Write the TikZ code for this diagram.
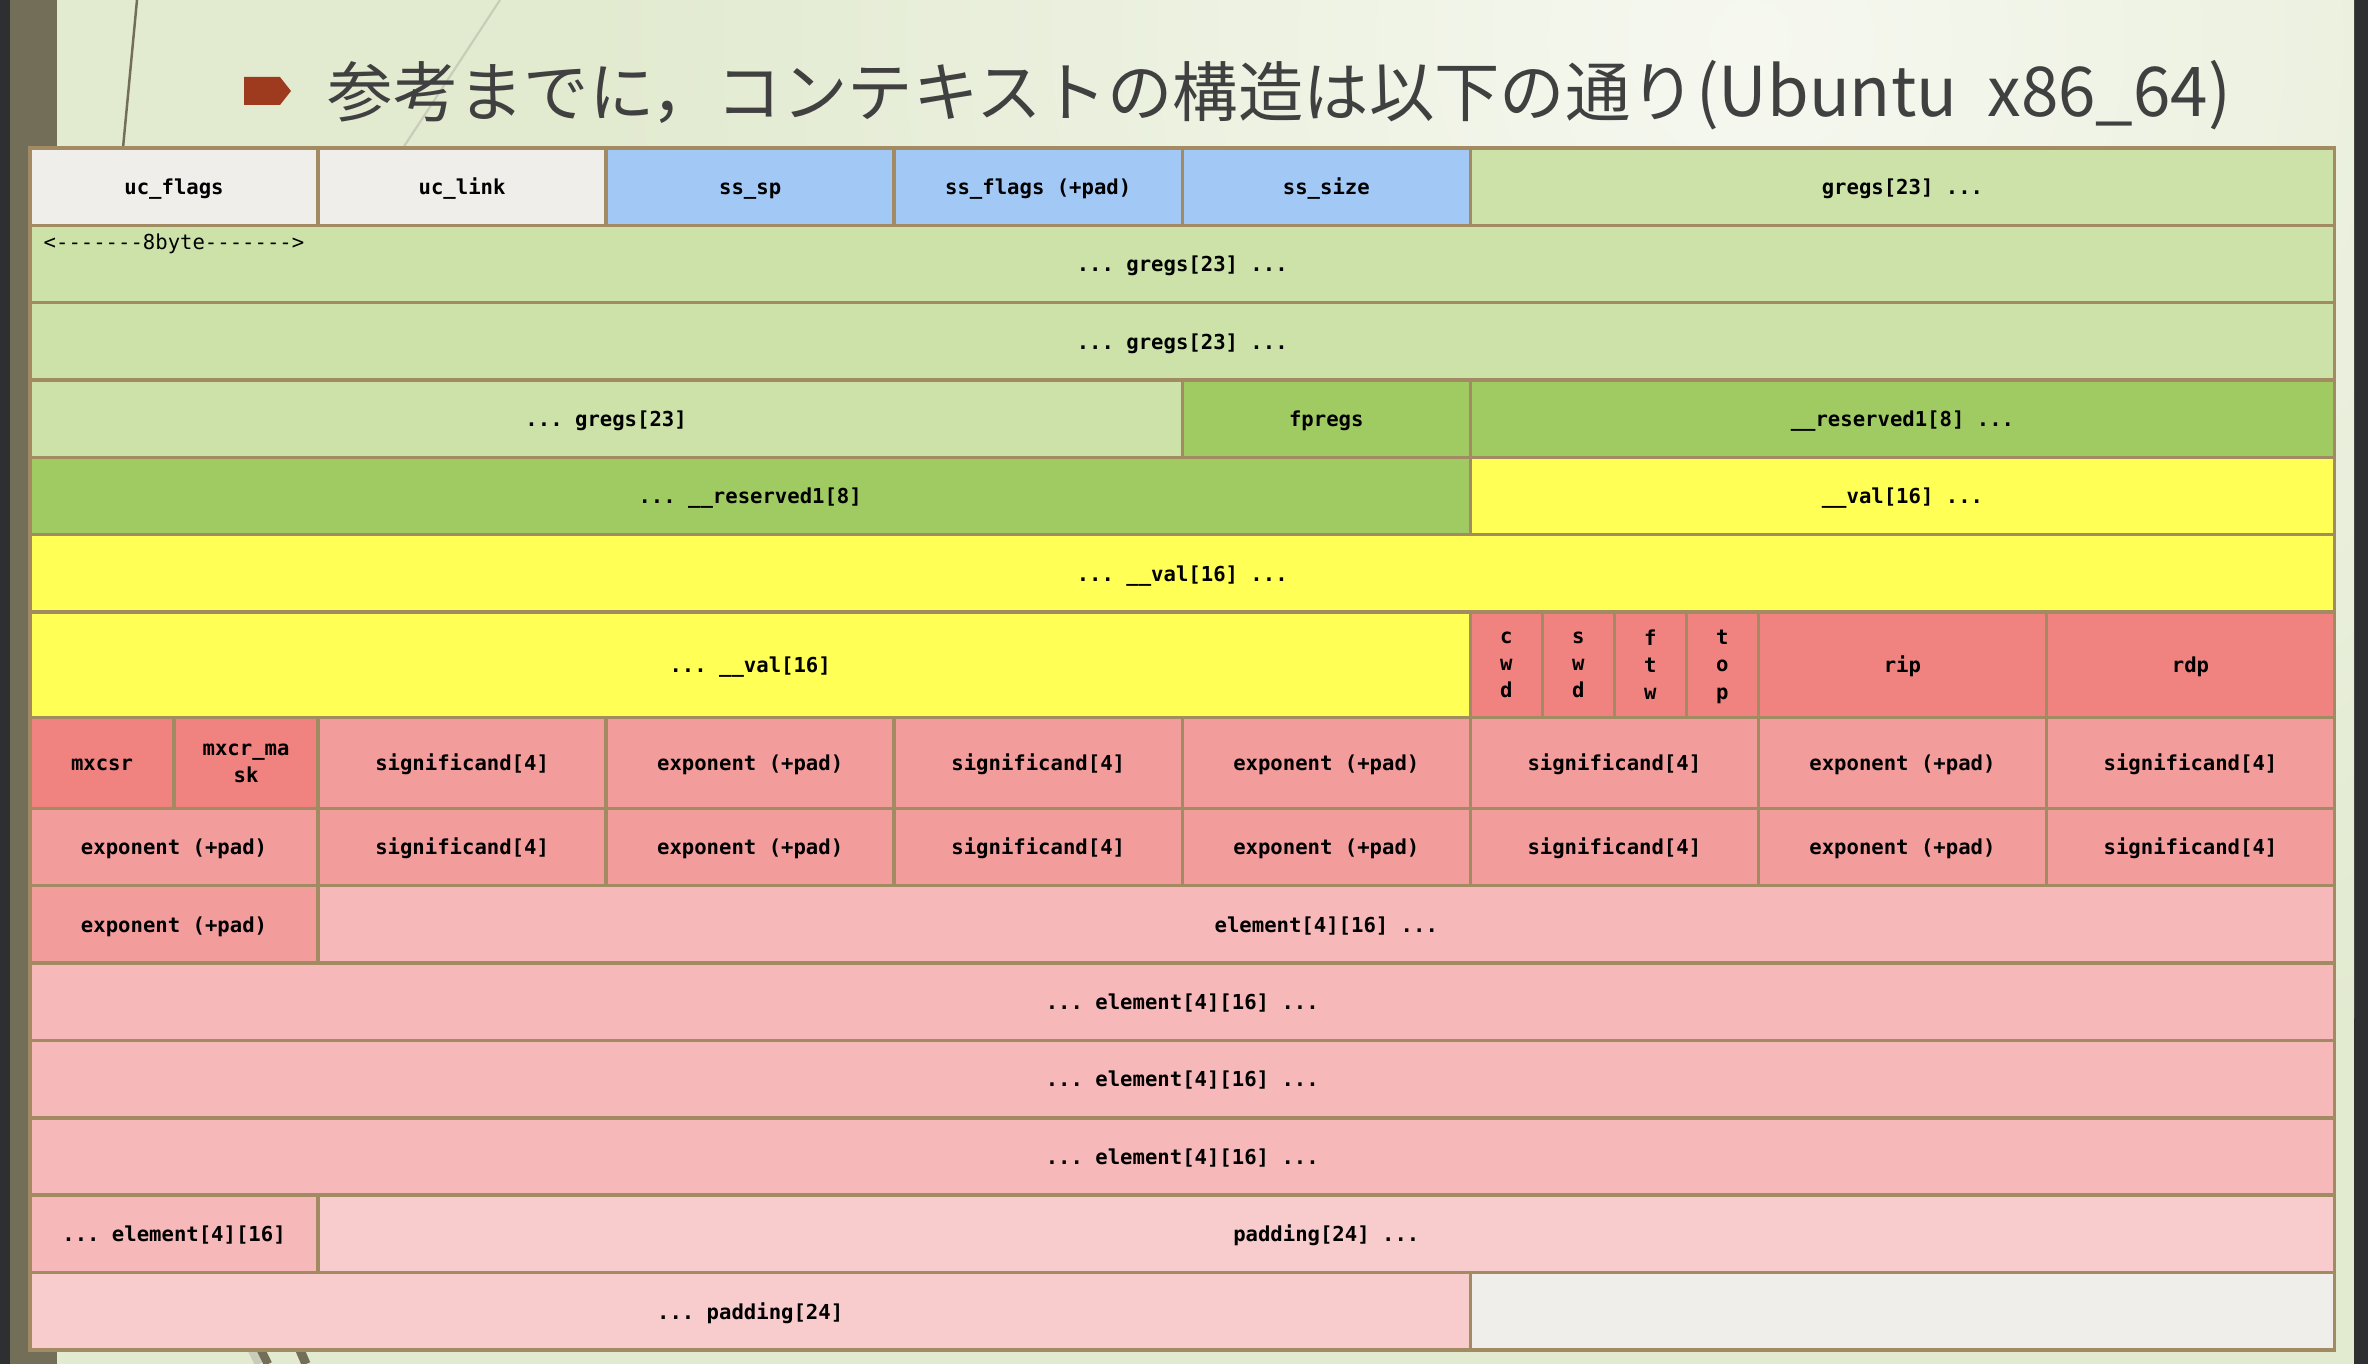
\documentclass[tikz,border=0pt]{standalone}
\usepackage{fontspec}
\usepackage{graphicx}
\setmonofont{DejaVu Sans Mono}
\newfontfamily\jpfont{Noto Sans CJK JP}
\usepackage{tikz}
\usetikzlibrary{positioning}
\definecolor{fondoverde}{RGB}{226,234,208}
\definecolor{fondoclaro}{RGB}{246,248,240}
\definecolor{fondooscuro}{RGB}{46,47,49}
\definecolor{fondooliva}{RGB}{115,110,88}
\definecolor{lineaclara}{RGB}{200,204,184}
\definecolor{titulogris}{RGB}{64,64,64}
\definecolor{vinieta}{RGB}{158,58,30}
\definecolor{borde}{RGB}{162,138,98}
\definecolor{cgris}{RGB}{239,238,234}
\definecolor{cazul}{RGB}{162,201,246}
\definecolor{cverde}{RGB}{204,226,168}
\definecolor{cverdeosc}{RGB}{160,203,98}
\definecolor{camarillo}{RGB}{255,255,85}
\definecolor{crojo}{RGB}{240,130,128}
\definecolor{csalmon}{RGB}{242,157,155}
\definecolor{crosa}{RGB}{246,184,184}
\definecolor{crosaclaro}{RGB}{248,204,204}
\newcommand{\celdafont}{\ttfamily\bfseries\fontsize{5.86pt}{7.7pt}\selectfont}
\tikzset{
  celda/.style={draw=borde, line width=1pt, inner sep=0pt, outer sep=0pt,
    align=center, font=\celdafont, text=black, minimum height=0.773cm,
    text height=4.5pt, text depth=0pt},
  cols/.style={minimum width=#1*2.879cm},
  alta/.style={minimum height=1.052cm},
  media/.style={minimum height=0.91cm},
  varias/.style={text height={}},
}

\begin{document}
\begin{tikzpicture}[x=0.01cm, y=-0.01cm]
    \useasboundingbox (0,0) rectangle (2368,1364);
    % fondo de la diapositiva
    \fill[fondooscuro] (0,0) rectangle (2368,1364);
    \fill[fondooliva] (10,0) rectangle (57,1364);
    \begin{scope}
      \clip (57,0) rectangle (2354,1364);
      \fill[fondoverde] (57,0) rectangle (2354,1364);
      \shade[inner color=fondoclaro, outer color=fondoverde] (1750,40) circle (1150);
    \end{scope}
    \draw[fondooliva, line width=0.7pt] (137,0)--(123,148);
    \draw[lineaclara, line width=0.6pt] (500,0)--(403,148);
    \draw[lineaclara, line width=2.4pt] (252,1350)--(259,1364);
    \draw[fondooliva, line width=2.4pt] (261,1350)--(268,1364);
    \draw[fondooliva, line width=2.6pt] (300,1350)--(306,1364);
    % titulo
    \fill[vinieta] (244,77)--(280,77)--(291,91)--(280,105)--(244,105)--cycle;
    \node[anchor=west, inner sep=0pt, text=titulogris,
      font=\jpfont\fontsize{18.6pt}{21pt}\selectfont] (titulo) at (327,95)
      {参考までに，コンテキストの構造は以下の通り\scalebox{1.03}[1.05]{(Ubuntu\ \ x86\_64)}};
    % fila 1: uc_flags, uc_link, stack_t
    \node[celda, cols=1, fill=cgris, anchor=north west] (ucflags) at (30,148) {uc\_flags};
    \node[celda, cols=1, fill=cgris, right=0pt of ucflags] (uclink) {uc\_link};
    \node[celda, cols=1, fill=cazul, right=0pt of uclink] (sssp) {ss\_sp};
    \node[celda, cols=1, fill=cazul, right=0pt of sssp] (ssflags) {ss\_flags (+pad)};
    \node[celda, cols=1, fill=cazul, right=0pt of ssflags] (sssize) {ss\_size};
    \node[celda, cols=3, fill=cverde, right=0pt of sssize] (gregsA) {gregs[23] ...};
    % filas 2-4: gregs, fpregs, __reserved1
    \node[celda, cols=8, fill=cverde, anchor=north west] (gregsB) at (ucflags.south west) {... gregs[23] ...};
    \node[anchor=west, inner sep=0pt, font=\ttfamily\fontsize{5.86pt}{7pt}\selectfont] (ochobytes) at (43,244) {<-------8byte------->};
    \node[celda, cols=8, fill=cverde, anchor=north west] (gregsC) at (gregsB.south west) {... gregs[23] ...};
    \node[celda, cols=4, fill=cverde, anchor=north west] (gregsD) at (gregsC.south west) {... gregs[23]};
    \node[celda, cols=1, fill=cverdeosc, right=0pt of gregsD] (fpregs) {fpregs};
    \node[celda, cols=3, fill=cverdeosc, right=0pt of fpregs] (resA) {\_\_reserved1[8] ...};
    % filas 5-7: __reserved1, __val, cwd ... rdp
    \node[celda, cols=5, fill=cverdeosc, anchor=north west] (resB) at (gregsD.south west) {... \_\_reserved1[8]};
    \node[celda, cols=3, fill=camarillo, right=0pt of resB] (valA) {\_\_val[16] ...};
    \node[celda, cols=8, fill=camarillo, anchor=north west] (valB) at (resB.south west) {... \_\_val[16] ...};
    \node[celda, alta, cols=5, fill=camarillo, anchor=north west] (valC) at (valB.south west) {... \_\_val[16]};
    \node[celda, alta, varias, cols=0.25, fill=crojo, right=0pt of valC] (cwd) {c\\w\\d};
    \node[celda, alta, varias, cols=0.25, fill=crojo, right=0pt of cwd] (swd) {s\\w\\d};
    \node[celda, alta, varias, cols=0.25, fill=crojo, right=0pt of swd] (ftw) {f\\t\\w};
    \node[celda, alta, varias, cols=0.25, fill=crojo, right=0pt of ftw] (top) {t\\o\\p};
    \node[celda, alta, cols=1, fill=crojo, right=0pt of top] (rip) {rip};
    \node[celda, alta, cols=1, fill=crojo, right=0pt of rip] (rdp) {rdp};
    % filas 8-9: mxcsr, _st[8]
    \node[celda, media, cols=0.5, fill=crojo, anchor=north west] (mxcsr) at (valC.south west) {mxcsr};
    \node[celda, media, varias, cols=0.5, fill=crojo, right=0pt of mxcsr] (mxcrmask) {mxcr\_ma\\sk};
    \node[celda, media, cols=1, fill=csalmon, right=0pt of mxcrmask] (sigA) {significand[4]};
    \node[celda, media, cols=1, fill=csalmon, right=0pt of sigA] (expA) {exponent (+pad)};
    \node[celda, media, cols=1, fill=csalmon, right=0pt of expA] (sigB) {significand[4]};
    \node[celda, media, cols=1, fill=csalmon, right=0pt of sigB] (expB) {exponent (+pad)};
    \node[celda, media, cols=1, fill=csalmon, right=0pt of expB] (sigC) {significand[4]};
    \node[celda, media, cols=1, fill=csalmon, right=0pt of sigC] (expC) {exponent (+pad)};
    \node[celda, media, cols=1, fill=csalmon, right=0pt of expC] (sigD) {significand[4]};
    \node[celda, cols=1, fill=csalmon, anchor=north west] (expD) at (mxcsr.south west) {exponent (+pad)};
    \node[celda, cols=1, fill=csalmon, right=0pt of expD] (sigE) {significand[4]};
    \node[celda, cols=1, fill=csalmon, right=0pt of sigE] (expE) {exponent (+pad)};
    \node[celda, cols=1, fill=csalmon, right=0pt of expE] (sigF) {significand[4]};
    \node[celda, cols=1, fill=csalmon, right=0pt of sigF] (expF) {exponent (+pad)};
    \node[celda, cols=1, fill=csalmon, right=0pt of expF] (sigG) {significand[4]};
    \node[celda, cols=1, fill=csalmon, right=0pt of sigG] (expG) {exponent (+pad)};
    \node[celda, cols=1, fill=csalmon, right=0pt of expG] (sigH) {significand[4]};
    % filas 10-14: _xmm element
    \node[celda, cols=1, fill=csalmon, anchor=north west] (expH) at (expD.south west) {exponent (+pad)};
    \node[celda, cols=7, fill=crosa, right=0pt of expH] (elemA) {element[4][16] ...};
    \node[celda, cols=8, fill=crosa, anchor=north west] (elemB) at (expH.south west) {... element[4][16] ...};
    \node[celda, cols=8, fill=crosa, anchor=north west] (elemC) at (elemB.south west) {... element[4][16] ...};
    \node[celda, cols=8, fill=crosa, anchor=north west] (elemD) at (elemC.south west) {... element[4][16] ...};
    \node[celda, cols=1, fill=crosa, anchor=north west] (elemE) at (elemD.south west) {... element[4][16]};
    % filas 14-15: padding
    \node[celda, cols=7, fill=crosaclaro, right=0pt of elemE] (padA) {padding[24] ...};
    \node[celda, cols=5, fill=crosaclaro, anchor=north west] (padB) at (elemE.south west) {... padding[24]};
    \node[celda, cols=3, fill=cgris, right=0pt of padB] (vacio) {};
\end{tikzpicture}
\end{document}
